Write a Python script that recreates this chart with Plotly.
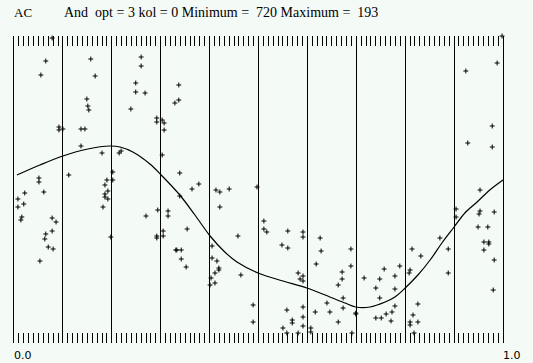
import plotly.graph_objects as go

# Smoothed curve (x in 0..1, y in arbitrary units)
curve_x = [0.006, 0.053, 0.100, 0.151, 0.196, 0.217, 0.243, 0.278, 0.301, 0.339,
           0.370, 0.401, 0.431, 0.456, 0.499, 0.550, 0.599, 0.646, 0.677, 0.699,
           0.728, 0.759, 0.779, 0.800, 0.826, 0.851, 0.875, 0.900, 0.922, 0.947,
           0.973, 1.000]
curve_y = [168, 178, 187, 194, 197, 196, 191, 179, 168, 148,
           128, 107, 91, 81, 70, 62, 55, 46, 40, 36,
           36, 41, 46, 55, 68, 83, 100, 116, 130, 141,
           153, 163]

# Observed points
pts_x = [0.065, 0.055, 0.157, 0.166, 0.149, 0.151, 0.153, 0.260, 0.260, 0.249,
         0.249, 0.268, 0.239, 0.292, 0.292, 0.303, 0.307, 0.307, 0.329, 0.337,
         0.337, 0.092, 0.100, 0.092, 0.137, 0.145, 0.137, 0.078, 0.180, 0.215,
         0.219, 0.112, 0.051, 0.051, 0.022, 0.061, 0.008, 0.020, 0.008, 0.016,
         0.014, 0.078, 0.086, 0.078, 0.065, 0.063, 0.070, 0.080, 0.053, 0.190,
         0.186, 0.192, 0.186, 0.186, 0.192, 0.182, 0.202, 0.202, 0.198, 0.303,
         0.294, 0.315, 0.315, 0.270, 0.305, 0.305, 0.292, 0.292, 0.333, 0.339,
         0.339, 0.364, 0.378, 0.354, 0.331, 0.342, 0.342, 0.352, 0.413, 0.421,
         0.440, 0.421, 0.405, 0.405, 0.415, 0.419, 0.419, 0.411, 0.403, 0.401,
         0.411, 0.458, 0.464, 0.497, 0.511, 0.511, 0.517, 0.560, 0.591, 0.591,
         0.626, 0.628, 0.548, 0.560, 0.618, 0.581, 0.591, 0.591, 0.585, 0.640,
         0.489, 0.489, 0.558, 0.569, 0.569, 0.591, 0.591, 0.591, 0.616, 0.550,
         0.558, 0.581, 0.607, 0.607, 0.689, 0.689, 0.671, 0.671, 0.663, 0.673,
         0.673, 0.663, 0.646, 0.716, 0.757, 0.748, 0.740, 0.748, 0.779, 0.779,
         0.789, 0.779, 0.773, 0.771, 0.761, 0.740, 0.751, 0.699, 0.699, 0.691,
         0.814, 0.832, 0.810, 0.808, 0.826, 0.816, 0.810, 0.810, 0.826, 0.818,
         0.871, 0.888, 0.888, 0.904, 0.904, 0.953, 0.951, 0.953, 0.982, 0.949,
         0.969, 0.961, 0.971, 0.971, 0.961, 0.982, 0.980, 0.988, 0.924, 0.978,
         0.928, 0.978, 0.998]
pts_y = [282, 268, 284, 267, 244, 237, 233, 286, 277, 260,
         251, 250, 234, 225, 221, 223, 220, 213, 240, 258,
         243, 213, 214, 216, 214, 214, 197, 305, 190, 190,
         192, 168, 165, 161, 150, 151, 144, 139, 136, 126,
         123, 125, 121, 112, 109, 104, 96, 94, 82, 163,
         158, 152, 149, 146, 144, 136, 171, 163, 106, 188,
         133, 132, 127, 127, 112, 107, 107, 105, 93, 170,
         147, 154, 159, 114, 93, 93, 84, 76, 153, 151,
         154, 136, 97, 85, 82, 75, 73, 70, 65, 58,
         60, 107, 68, 156, 122, 114, 111, 112, 111, 106,
         105, 92, 98, 95, 79, 70, 67, 62, 64, 40,
         38, 21, 33, 23, 20, 36, 26, 17, 31, 15,
         10, 10, 15, 11, 94, 77, 71, 64, 58, 45,
         35, 21, 31, 65, 74, 64, 55, 45, 67, 54,
         77, 37, 31, 22, 29, 25, 25, 30, 29, 10,
         94, 87, 73, 70, 39, 28, 21, 18, 21, 10,
         105, 94, 70, 134, 126, 153, 129, 132, 131, 116,
         116, 101, 101, 99, 93, 83, 53, 280, 272, 217,
         200, 196, 307]

title_left = "AC"
title_main = "And  opt = 3 kol = 0 Minimum =  720 Maximum =  193"
x_labels = ["0.0", "1.0"]
x_label_pos = [0.0, 1.0]

BG = "#f4faf6"

fig = go.Figure()
fig.add_trace(go.Scatter(
    x=pts_x, y=pts_y, mode="markers",
    marker=dict(symbol="cross-thin", size=3.5, color="black",
                line=dict(width=1, color="black")),
    hoverinfo="skip", showlegend=False, cliponaxis=False))
fig.add_trace(go.Scatter(
    x=curve_x, y=curve_y, mode="lines",
    line=dict(color="black", width=1.2, shape="spline"),
    hoverinfo="skip", showlegend=False))

fig.update_layout(
    width=533, height=363,
    margin=dict(l=14, r=30, t=36, b=20),
    paper_bgcolor=BG, plot_bgcolor=BG,
    showlegend=False,
    xaxis=dict(range=[0, 1], tick0=0, dtick=0.1, ticks="inside", ticklen=10,
               tickwidth=1, tickcolor="black", showticklabels=False,
               showgrid=True, gridcolor="black", gridwidth=1,
               zeroline=True, zerolinecolor="black", zerolinewidth=1,
               showline=False, mirror="ticks",
               minor=dict(dtick=0.01, tick0=0, ticks="inside", ticklen=10,
                          tickwidth=1, tickcolor="black", showgrid=False)),
    yaxis=dict(range=[0, 307], showticklabels=False, ticks="",
               showgrid=False, zeroline=False,
               showline=True, mirror=True, linecolor="black", linewidth=1),
)

fig.add_annotation(text=title_left, xref="paper", yref="paper",
                   x=-0.004, y=1.078, xanchor="left", yanchor="middle",
                   showarrow=False, font=dict(family="Liberation Serif", size=13, color="black"))
fig.add_annotation(text=title_main, xref="paper", yref="paper",
                   x=0.098, y=1.078, xanchor="left", yanchor="middle",
                   showarrow=False, font=dict(family="Liberation Serif", size=14, color="black"))
for lab, pos in zip(x_labels, x_label_pos):
    fig.add_annotation(text=lab, xref="x", yref="paper", x=pos, y=-0.013,
                       xanchor="left", yanchor="top", showarrow=False, xshift=-2,
                       font=dict(family="DejaVu Sans", size=11, color="black"))

fig.write_html("out.html", config={"displayModeBar": False},
               post_script="document.body.style.margin='0';document.body.style.background='%s';" % BG)
